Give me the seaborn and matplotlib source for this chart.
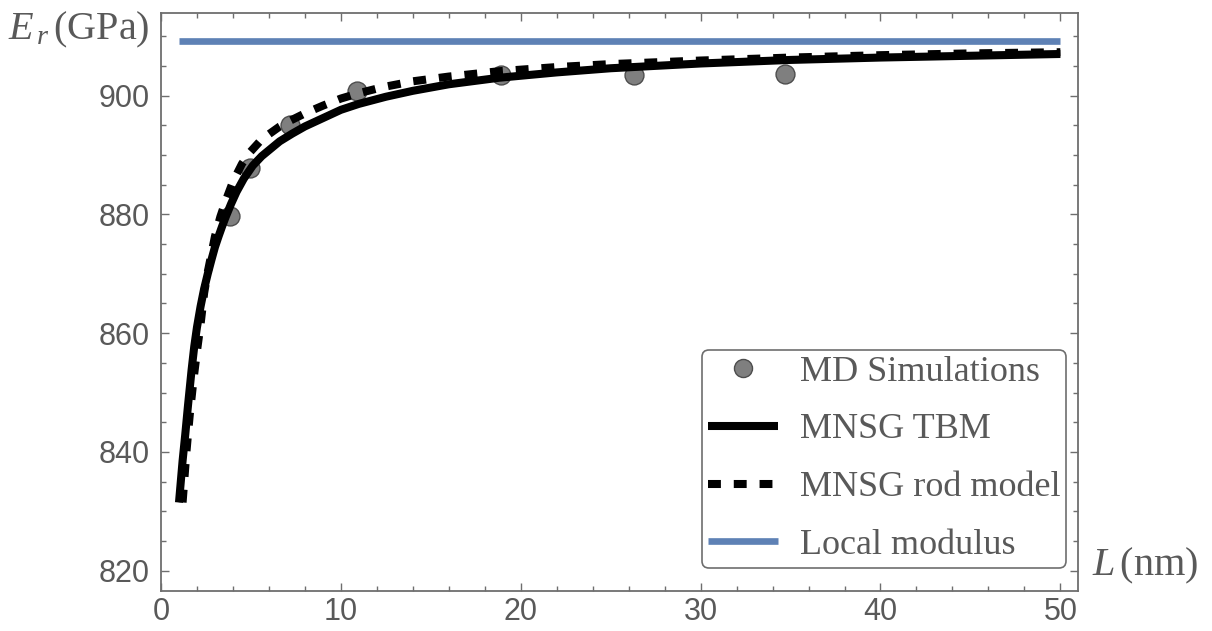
import matplotlib
matplotlib.use("Agg")
import matplotlib.pyplot as plt
import seaborn as sns
import pandas as pd
from matplotlib.ticker import MultipleLocator
from matplotlib.lines import Line2D

# ---------------- data ----------------
md_L = [3.83, 4.94, 7.17, 10.9, 18.9, 26.3, 34.7]
md_E = [879.7, 887.8, 895.0, 900.7, 903.4, 903.5, 903.7]

tbm_L = [1.0, 1.1, 1.2, 1.35, 1.5, 1.7, 1.85, 2.0, 2.2, 2.4, 2.6, 2.8, 3.0,
         3.2, 3.4, 3.6, 3.9, 4.2, 4.6, 5.1, 5.6, 6.0, 6.6, 7.3, 8.0, 9.0,
         10.0, 11.0, 12.5, 14.0, 16.0, 18.8, 22.0, 25.0, 30.0, 35.0, 40.0,
         45.0, 50.0]
tbm_E = [831.5, 835.0, 838.5, 843.0, 847.8, 853.8, 857.8, 861.0, 864.5, 867.5,
         870.0, 872.3, 874.5, 876.3, 878.0, 879.6, 881.8, 883.8, 886.0, 888.2,
         889.8, 890.8, 892.3, 893.6, 894.8, 896.2, 897.6, 898.6, 899.8, 900.8,
         901.9, 903.0, 903.9, 904.6, 905.4, 906.0, 906.4, 906.7, 907.0]

rod_L = [1.2, 1.3, 1.4, 1.5, 1.6, 1.8, 2.0, 2.2, 2.4, 2.6, 2.8, 3.0, 3.3,
         3.6, 4.0, 4.5, 4.9, 5.5, 6.0, 6.6, 7.2, 8.0, 9.0, 10.0, 11.0, 12.3,
         14.0, 16.0, 18.8, 22.0, 25.0, 30.0, 35.0, 40.0, 45.0, 50.0]
rod_E = [831.5, 835.5, 839.5, 843.0, 846.3, 852.0, 857.0, 861.5, 866.8, 870.3,
         873.3, 876.3, 879.6, 882.3, 885.5, 888.5, 890.3, 892.3, 893.5, 894.8,
         895.8, 897.0, 898.3, 899.5, 900.4, 901.4, 902.4, 903.2, 904.1, 904.8,
         905.3, 905.9, 906.4, 906.8, 907.1, 907.3]

local_L = [1.0, 50.0]
local_E = [909.2, 909.2]

x_ticks = [0, 10, 20, 30, 40, 50]
y_ticks = [820, 840, 860, 880, 900]
legend_labels = ["MD Simulations", "MNSG TBM", "MNSG rod model", "Local modulus"]

# ---------------- style ----------------
sns.set_theme(style="ticks")
plt.rcParams["font.family"] = ["Liberation Sans", "DejaVu Sans"]
plt.rcParams["mathtext.fontset"] = "custom"
plt.rcParams["mathtext.rm"] = "Liberation Serif"
plt.rcParams["mathtext.it"] = "Liberation Serif:italic"

GRAY = "#595959"
FRAME = "#6e6e6e"
BLUE = "#5e81b5"

fig = plt.figure(figsize=(12.12, 6.31), dpi=100)
ax = fig.add_axes([161 / 1212, 1 - 591 / 631, (1078 - 161) / 1212, (591 - 13) / 631])

md_df = pd.DataFrame({"L": md_L, "E": md_E})
tbm_df = pd.DataFrame({"L": tbm_L, "E": tbm_E})
rod_df = pd.DataFrame({"L": rod_L, "E": rod_E})
loc_df = pd.DataFrame({"L": local_L, "E": local_E})

sns.scatterplot(data=md_df, x="L", y="E", ax=ax, s=185, color="#7f7f7f",
                edgecolor="#4d4d4d", linewidth=1.0, zorder=2, legend=False)
sns.lineplot(data=loc_df, x="L", y="E", ax=ax, color=BLUE, linewidth=4.8,
             estimator=None, sort=False, zorder=3, legend=False,
             solid_capstyle="butt")
sns.lineplot(data=tbm_df, x="L", y="E", ax=ax, color="black", linewidth=5.8,
             estimator=None, sort=False, zorder=4, legend=False,
             solid_capstyle="butt", solid_joinstyle="round")
sns.lineplot(data=rod_df, x="L", y="E", ax=ax, color="black", linewidth=5.8,
             estimator=None, sort=False, zorder=5, legend=False,
             linestyle=(0, (1.6, 1.6)), dash_capstyle="butt")

ax.set_xlim(0.02, 50.98)
ax.set_ylim(816.6, 913.9)
ax.set_xticks(x_ticks)
ax.set_yticks(y_ticks)
ax.xaxis.set_minor_locator(MultipleLocator(2))
ax.yaxis.set_minor_locator(MultipleLocator(5))
ax.set_xlabel("")
ax.set_ylabel("")

ax.tick_params(which="both", direction="in", top=True, right=True,
               color=FRAME, width=1.0)
ax.tick_params(which="major", length=6, labelsize=22, labelcolor=GRAY, pad=8)
ax.tick_params(which="minor", length=3.5)
ax.tick_params(axis="x", pad=4)
for side in ["top", "right", "left", "bottom"]:
    ax.spines[side].set_visible(True)
    ax.spines[side].set_color(FRAME)
    ax.spines[side].set_linewidth(1.3)

# axis labels placed like the reference
fig.text(8 / 1212, 1 - 30 / 631, r"$E_{\,r}\,(\mathrm{GPa})$", fontsize=29,
         color=GRAY, ha="left", va="center")
fig.text(1092 / 1212, 1 - 566 / 631, r"$L\,(\mathrm{nm})$", fontsize=29,
         color=GRAY, ha="left", va="center")

handles = [
    Line2D([], [], marker="o", linestyle="none", markersize=13,
           markerfacecolor="#7f7f7f", markeredgecolor="#4d4d4d"),
    Line2D([], [], color="black", linewidth=5.8, solid_capstyle="butt"),
    Line2D([], [], color="black", linewidth=5.8, linestyle=(0, (1.6, 1.6)),
           dash_capstyle="butt"),
    Line2D([], [], color=BLUE, linewidth=4.8, solid_capstyle="butt"),
]
leg = ax.legend(handles, legend_labels, loc="lower right",
                bbox_to_anchor=(0.987, 0.040), borderaxespad=0,
                prop={"family": "Liberation Serif", "size": 26},
                labelcolor=GRAY, frameon=True, fancybox=True, framealpha=1,
                edgecolor=FRAME, handlelength=1.95, handletextpad=0.6,
                labelspacing=0.68, borderpad=0.16)
leg.get_frame().set_linewidth(1.2)

fig.savefig("out.png", dpi=100)
